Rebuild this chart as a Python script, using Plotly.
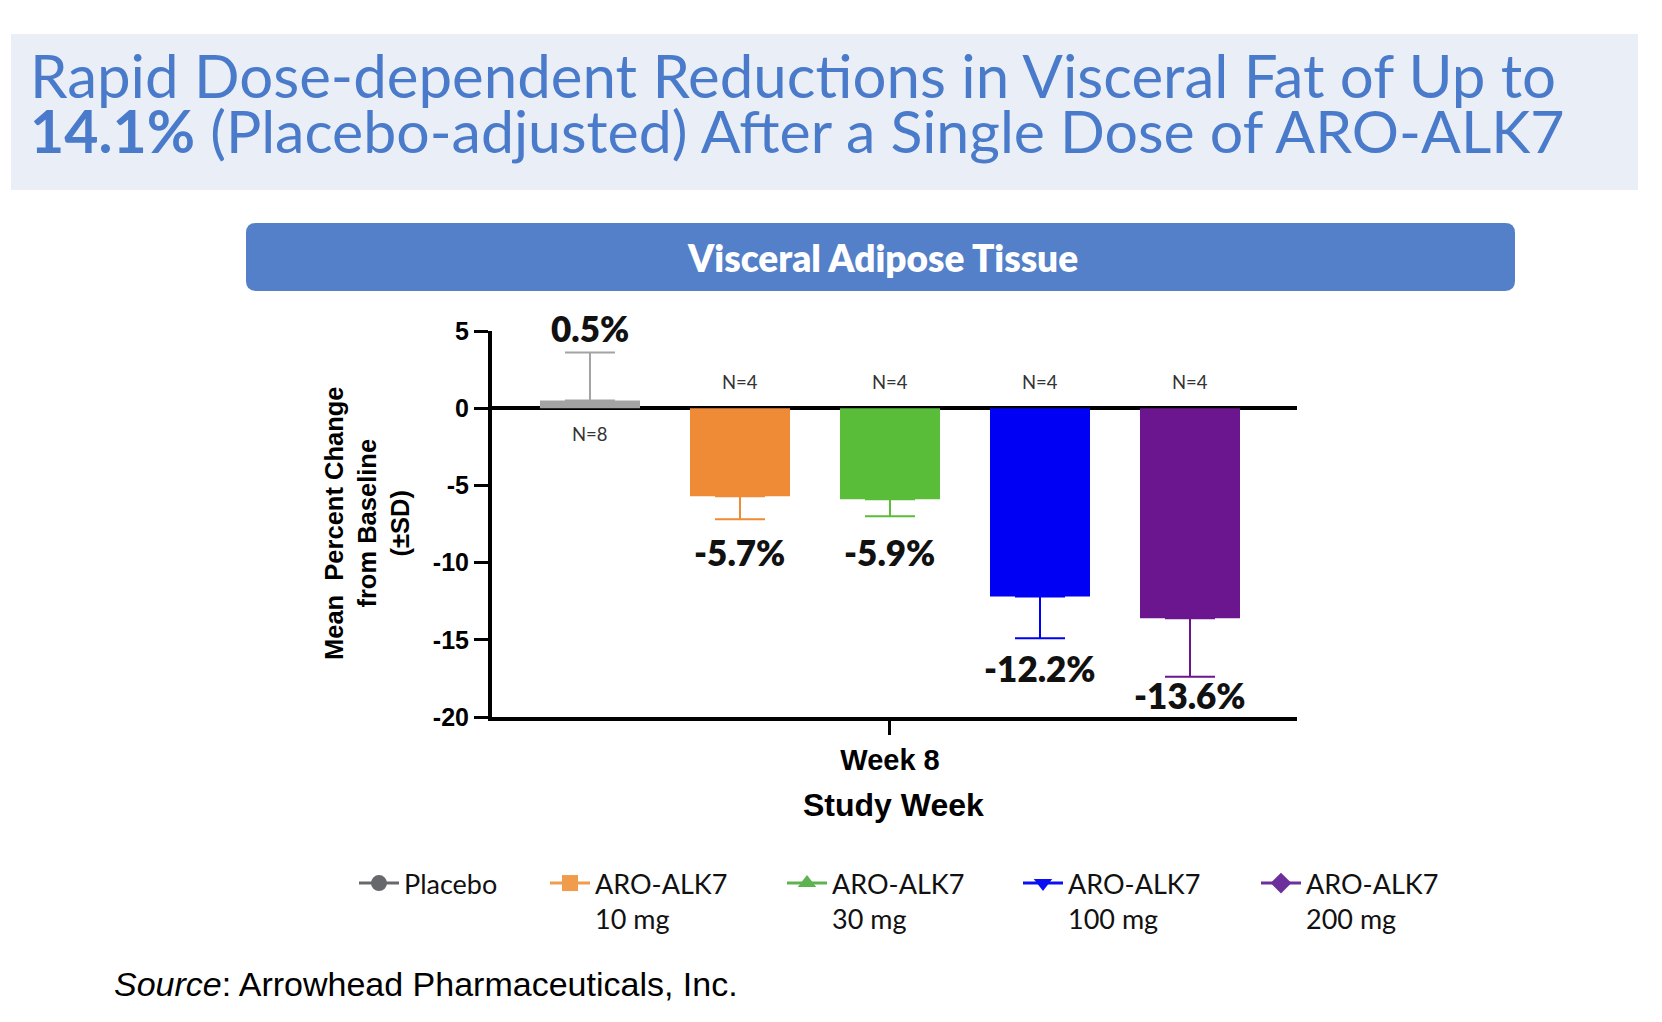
import plotly.graph_objects as go

# ---------------- data ----------------
groups = ["Placebo", "ARO-ALK7 10 mg", "ARO-ALK7 30 mg", "ARO-ALK7 100 mg", "ARO-ALK7 200 mg"]
legend_labels = ["Placebo", "ARO-ALK7<br>10 mg", "ARO-ALK7<br>30 mg", "ARO-ALK7<br>100 mg", "ARO-ALK7<br>200 mg"]
week = ["Week 8"]
means = [0.5, -5.7, -5.9, -12.2, -13.6]
sds = [3.1, 1.5, 1.1, 2.7, 3.8]
n_counts = [8, 4, 4, 4, 4]
value_labels = ["0.5%", "-5.7%", "-5.9%", "-12.2%", "-13.6%"]
y_ticks = [5, 0, -5, -10, -15, -20]

# ---------------- styles ----------------
bar_colors = ["#a3a3a3", "#ef8a36", "#5abd3a", "#0000f5", "#6b168e"]
legend_colors = ["#66686c", "#f09c4c", "#5cb34f", "#0a10f2", "#6c2f9b"]
legend_symbols = ["circle", "square", "triangle-up", "triangle-down", "diamond"]
label_yshift = [25, -33, -36, -30, -18]

W, H = 1662, 1022
PX0, PX1, PY0, PY1 = 492, 1297, 331, 717  # plot area in pixels


def px(xp):
    return (xp - PX0) / (PX1 - PX0)


def py(yp):
    return (PY1 - yp) / (PY1 - PY0)


def rounded_rect(x0, y0, x1, y1, r):
    def P(x, y):
        return f"{px(x):.5f},{py(y):.5f}"
    return (f"M {P(x0 + r, y0)} L {P(x1 - r, y0)} Q {P(x1, y0)} {P(x1, y0 + r)} "
            f"L {P(x1, y1 - r)} Q {P(x1, y1)} {P(x1 - r, y1)} "
            f"L {P(x0 + r, y1)} Q {P(x0, y1)} {P(x0, y1 - r)} "
            f"L {P(x0, y0 + r)} Q {P(x0, y0)} {P(x0 + r, y0)} Z")


fig = go.Figure()

bargap = 0.0683
nb = len(groups)
slot = (1 - bargap) / nb

for i, g in enumerate(groups):
    up = [sds[i]] if means[i] >= 0 else [0]
    down = [0] if means[i] >= 0 else [sds[i]]
    fig.add_trace(go.Bar(
        x=week, y=[means[i]], name=g, showlegend=False,
        marker=dict(color=bar_colors[i], line=dict(width=0)),
        error_y=dict(type="data", symmetric=False, array=up, arrayminus=down,
                     color=bar_colors[i], thickness=2, width=25),
        hoverinfo="skip",
    ))

# legend-only traces, one legend each
legend_text_x = [408, 599, 836, 1072, 1310]
legend_ids = ["legend", "legend2", "legend3", "legend4", "legend5"]
for i, g in enumerate(groups):
    fig.add_trace(go.Scatter(
        x=[None], y=[None], mode="lines+markers", name=legend_labels[i],
        line=dict(color=legend_colors[i], width=3),
        marker=dict(color=legend_colors[i], symbol=legend_symbols[i], size=16),
        legend=legend_ids[i], showlegend=True,
    ))

legend_layouts = {}
for i, lid in enumerate(legend_ids):
    legend_layouts[lid] = dict(
        x=px(legend_text_x[i] - 54), y=py(859), xanchor="left", yanchor="top",
        bgcolor="rgba(0,0,0,0)", borderwidth=0, valign="top",
        font=dict(family="Lato", size=27, color="#111111"),
        itemwidth=40, tracegroupgap=0,
    )

annotations = []
for i in range(nb):
    xc = (i - (nb - 1) / 2) * slot
    yend = means[i] + sds[i] if means[i] >= 0 else means[i] - sds[i]
    annotations.append(dict(
        x=xc, y=yend, xref="x", yref="y", text=value_labels[i],
        showarrow=False, yshift=label_yshift[i], yanchor="middle",
        font=dict(family="Lato", size=35, color="#111111", weight=800),
    ))
    annotations.append(dict(
        x=xc, y=0, xref="x", yref="y", text=f"N={n_counts[i]}",
        showarrow=False, yshift=(-26 if means[i] >= 0 else 26), yanchor="middle",
        font=dict(family="Lato", size=18.5, color="#333333"),
    ))

annotations += [
    dict(x=px(28), y=py(75), xref="paper", yref="paper", xanchor="left", yanchor="middle",
         text="Rapid Dose-dependent Reductions in Visceral Fat of Up to", showarrow=False,
         font=dict(family="Lato", size=60, color="#4a7bcb")),
    dict(x=px(28), y=py(131), xref="paper", yref="paper", xanchor="left", yanchor="middle",
         text="<b>14.1%</b> (Placebo-adjusted) After a Single Dose of ARO-ALK7", showarrow=False,
         font=dict(family="Lato", size=59, color="#4a7bcb")),
    dict(x=px(882), y=py(257), xref="paper", yref="paper", xanchor="center", yanchor="middle",
         text="Visceral Adipose Tissue", showarrow=False,
         font=dict(family="Lato", size=37, color="#ffffff", weight=800)),
    dict(x=px(367), y=py(523), xref="paper", yref="paper", xanchor="center", yanchor="middle",
         text="Mean  Percent Change<br>from Baseline<br>(±SD)", showarrow=False, textangle=-90,
         font=dict(family="Liberation Sans", size=25.5, color="#000000", weight=700)),
    dict(x=px(893), y=py(805), xref="paper", yref="paper", xanchor="center", yanchor="middle",
         text="Study Week", showarrow=False,
         font=dict(family="Liberation Sans", size=32, color="#000000", weight=700)),
    dict(x=px(112), y=py(984), xref="paper", yref="paper", xanchor="left", yanchor="middle",
         text="<i>Source</i>: Arrowhead Pharmaceuticals, Inc.", showarrow=False,
         font=dict(family="Liberation Sans", size=34, color="#000000")),
]

shapes = [
    dict(type="rect", xref="paper", yref="paper", x0=px(11), x1=px(1638), y0=py(34), y1=py(190),
         fillcolor="#eaeef6", line=dict(width=0), layer="below"),
    dict(type="path", xref="paper", yref="paper", path=rounded_rect(246, 223, 1515, 291, 10),
         fillcolor="#5380c8", line=dict(width=0), layer="below"),
]

fig.update_layout(
    width=W, height=H,
    margin=dict(l=PX0, r=W - PX1, t=PY0, b=H - PY1, pad=0),
    paper_bgcolor="#ffffff", plot_bgcolor="#ffffff",
    barmode="group", bargap=bargap, bargroupgap=1 / 3,
    annotations=annotations, shapes=shapes,
    showlegend=True,
    **legend_layouts,
)

fig.update_xaxes(
    type="category", range=[-0.4944, 0.5056], showgrid=False, zeroline=False,
    showline=True, linecolor="#000000", linewidth=4,
    ticks="outside", ticklen=14, tickwidth=3, tickcolor="#000000",
    tickfont=dict(family="Liberation Sans", size=29, color="#000000", weight=700),
)
fig.update_yaxes(
    range=[-20, 5], tickvals=y_ticks, ticktext=[str(v) for v in y_ticks], showgrid=False,
    zeroline=True, zerolinecolor="#000000", zerolinewidth=4,
    showline=True, linecolor="#000000", linewidth=4,
    ticks="outside", ticklen=14, tickwidth=3, tickcolor="#000000",
    tickfont=dict(family="Liberation Sans", size=25, color="#000000", weight=700),
    layer="above traces",
)

fig.write_html("out.html", config={"displayModeBar": False},
               post_script="document.body.style.margin='0';")
